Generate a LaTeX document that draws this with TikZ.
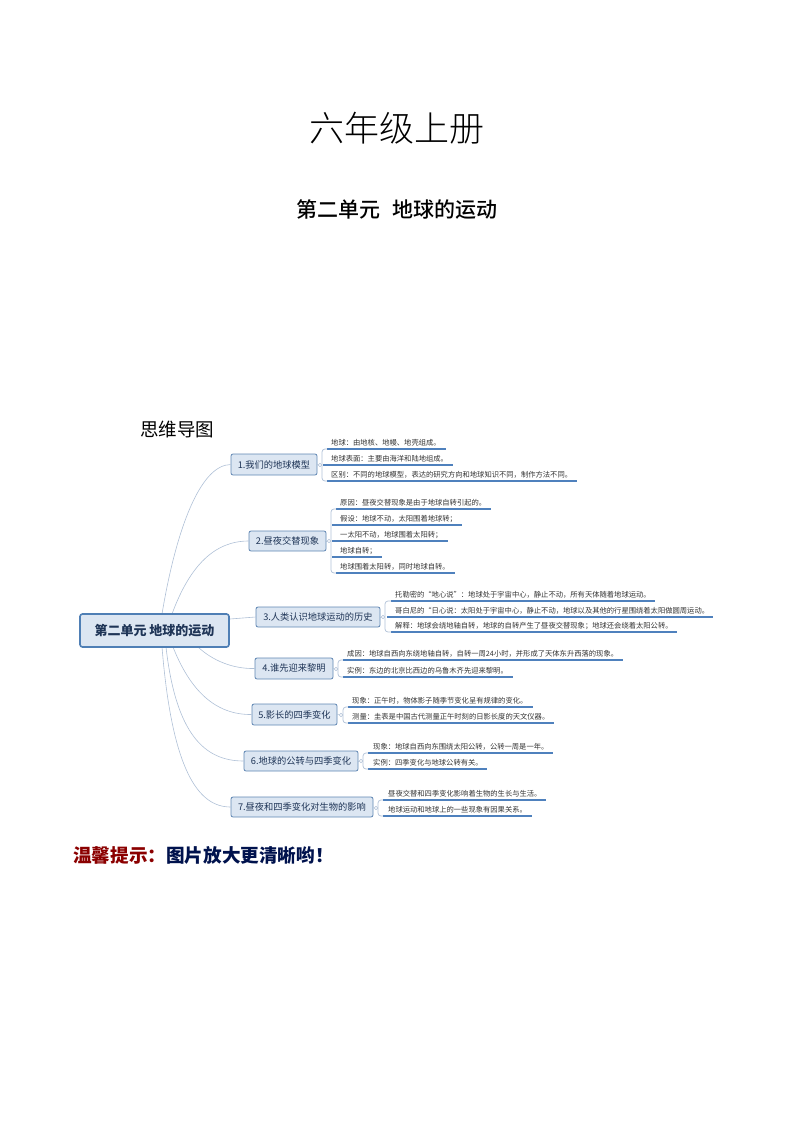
\documentclass[tikz,border=0pt]{standalone}
\usepackage{fontspec}
\setmainfont{Noto Sans CJK SC}
\newfontfamily\lightcjk{Noto Sans CJK SC Light}
\newfontfamily\mediumcjk{Noto Sans CJK SC Medium}
\usetikzlibrary{calc}
\definecolor{nodefill}{HTML}{DCE6F2}
\definecolor{nodeline}{HTML}{5F86B3}
\definecolor{rootline}{HTML}{4F7FB5}
\definecolor{linkcol}{HTML}{AFC0D6}
\definecolor{ulcol}{HTML}{4F81BD}
\definecolor{inktext}{HTML}{1F3557}
\definecolor{tipred}{HTML}{8B0000}
\definecolor{tipblue}{HTML}{00124D}
\tikzset{
  x=1pt,y=-1pt,
  rootbox/.style={draw=rootline,line width=1.6pt,fill=nodefill,rounded corners=2.5pt,inner sep=0pt,text=inktext,font=\fontsize{13}{13}\selectfont\bfseries},
  branchbox/.style={draw=nodeline,line width=.8pt,fill=nodefill,rounded corners=2pt,inner sep=0pt,text=inktext,font=\fontsize{9.25}{10}\selectfont},
  leaftext/.style={inner sep=0pt,anchor=base west,text=black!80,font=\fontsize{7.3}{8}\selectfont},
  link/.style={draw=linkcol,line width=.6pt},
  bracket/.style={draw=linkcol,line width=.7pt,rounded corners=3pt},
  underln/.style={draw=ulcol,line width=1.1pt},
  hub/.style={circle,draw=linkcol,fill=white,line width=.5pt,inner sep=0pt,minimum size=3.5pt},
}
\newcommand{\boxat}[6]{\node[branchbox,minimum width=#4-#2,minimum height=#5-#3] (#1) at ({(#2+#4)/2},{(#3+#5)/2}) {#6};}
\newcommand{\leafat}[6]{%
  \node[leaftext] (#1) at (#3,#4-4) {#6};
  \coordinate (#1s) at (#2,#4);
  \coordinate (#1e) at (#5,#4);
  \draw[underln] (#1s) -- (#1e);}
\newcommand{\brk}[3]{% hub node, first leaf, last leaf
  \draw[bracket] (#2s) -- (#2s -| #1.east) -- (#3s -| #1.east) -- (#3s);}
\begin{document}
\begin{tikzpicture}
\useasboundingbox (0,0) rectangle (794,1123);
\node[inner sep=0pt,font=\fontsize{35}{35}\selectfont\lightcjk] (title) at (397,128) {六年级上册};
\node[inner sep=0pt,font=\fontsize{21}{22}\selectfont\mediumcjk] (subtitle) at (397,210) {第二单元\hspace{12pt}地球的运动};
\node[inner sep=0pt,font=\fontsize{18.5}{19}\selectfont,anchor=west] (mindlabel) at (140,429) {思维导图};
\node[inner sep=0pt,font=\fontsize{18.6}{19}\selectfont\bfseries,anchor=west] (tip) at (73,855) {\textcolor{tipred}{温馨提示：}\textcolor{tipblue}{图片放大更清晰哟！}};

\coordinate (c1) at (162,614);
\coordinate (c2) at (172,614);
\coordinate (c3) at (230,619);
\coordinate (c4) at (198,647);
\coordinate (c5) at (173,647);
\coordinate (c6) at (166,647);
\coordinate (c7) at (162,647);

\boxat{n1}{231}{454}{317}{475}{1.我们的地球模型}
\boxat{n2}{249}{531}{326}{551}{2.昼夜交替现象}
\boxat{n3}{256}{607}{380}{627}{3.人类认识地球运动的历史}
\boxat{n4}{255}{658}{333}{679}{4.谁先迎来黎明}
\boxat{n5}{252}{704}{337}{725}{5.影长的四季变化}
\boxat{n6}{244}{751}{358}{771}{6.地球的公转与四季变化}
\boxat{n7}{231}{797}{373}{817}{7.昼夜和四季变化对生物的影响}

\draw[link] (c1) .. controls (176,530) and (200,465) .. (n1.west);
\draw[link] (c2) .. controls (190,565) and (215,541) .. (n2.west);
\draw[link] (c3) -- (n3.west);
\draw[link] (c4) .. controls (212,660) and (232,669) .. (n4.west);
\draw[link] (c5) .. controls (190,690) and (215,715) .. (n5.west);
\draw[link] (c6) .. controls (176,735) and (205,761) .. (n6.west);
\draw[link] (c7) .. controls (172,770) and (198,807) .. (n7.west);

\node[rootbox,minimum width=149pt,minimum height=33pt] (root) at (154.5,630.5) {第二单元 地球的运动};

\node[hub] (h1) at (320,465) {};
\leafat{a1}{327}{331}{449}{446}{地球：由地核、地幔、地壳组成。}
\leafat{a2}{323}{331}{465}{453}{地球表面：主要由海洋和陆地组成。}
\leafat{a3}{327}{331}{481}{577}{区别：不同的地球模型，表达的研究方向和地球知识不同，制作方法不同。}
\brk{h1}{a1}{a3}

\node[hub] (h2) at (329,541) {};
\leafat{b1}{336}{340}{509}{491}{原因：昼夜交替现象是由于地球自转引起的。}
\leafat{b2}{332}{340}{525}{462}{假设：地球不动，太阳围着地球转；}
\leafat{b3}{332}{340}{541}{448}{一太阳不动，地球围着太阳转；}
\leafat{b4}{332}{340}{557}{382}{地球自转；}
\leafat{b5}{336}{340}{573}{455}{地球围着太阳转，同时地球自转。}
\brk{h2}{b1}{b5}

\node[hub] (h3) at (383,617) {};
\leafat{c1l}{391}{395}{601}{655}{托勒密的“地心说”：地球处于宇宙中心，静止不动，所有天体随着地球运动。}
\leafat{c2l}{387}{395}{617}{713}{哥白尼的“日心说：太阳处于宇宙中心，静止不动，地球以及其他的行星围绕着太阳做圆周运动。}
\leafat{c3l}{391}{395}{632}{677}{解释：地球会绕地轴自转，地球的自转产生了昼夜交替现象；地球还会绕着太阳公转。}
\brk{h3}{c1l}{c3l}

\node[hub] (h4) at (336,669) {};
\leafat{d1}{343}{347}{660}{623}{成因：地球自西向东绕地轴自转，自转一周24小时，并形成了天体东升西落的现象。}
\leafat{d2}{343}{347}{677}{513}{实例：东边的北京比西边的乌鲁木齐先迎来黎明。}
\brk{h4}{d1}{d2}

\node[hub] (h5) at (341,715) {};
\leafat{e1}{348}{352}{707}{533}{现象：正午时，物体影子随季节变化呈有规律的变化。}
\leafat{e2}{348}{352}{723}{554}{测量：圭表是中国古代测量正午时刻的日影长度的天文仪器。}
\brk{h5}{e1}{e2}

\node[hub] (h6) at (361,761) {};
\leafat{f1}{368}{373}{753}{553}{现象：地球自西向东围绕太阳公转，公转一周是一年。}
\leafat{f2}{368}{373}{769}{487}{实例：四季变化与地球公转有关。}
\brk{h6}{f1}{f2}

\node[hub] (h7) at (376,808) {};
\leafat{g1}{383}{388}{800}{546}{昼夜交替和四季变化影响着生物的生长与生活。}
\leafat{g2}{383}{388}{816}{532}{地球运动和地球上的一些现象有因果关系。}
\brk{h7}{g1}{g2}

\draw[link] (n1.east) -- (h1);
\draw[link] (n2.east) -- (h2);
\draw[link] (n3.east) -- (h3);
\draw[link] (n4.east) -- (h4);
\draw[link] (n5.east) -- (h5);
\draw[link] (n6.east) -- (h6);
\draw[link] (n7.east) -- (h7);
\end{tikzpicture}
\end{document}
